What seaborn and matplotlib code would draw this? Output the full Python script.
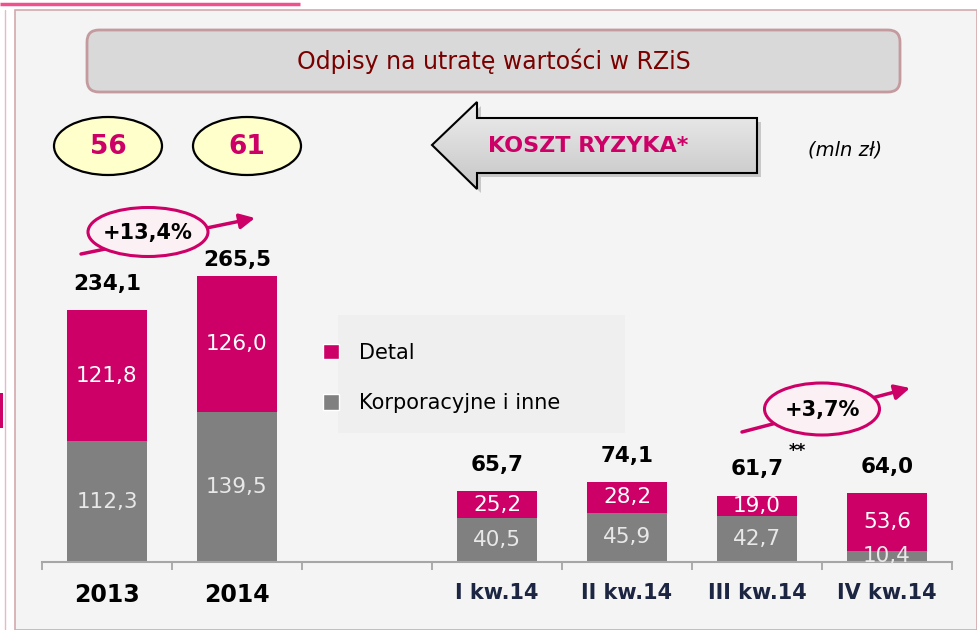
import numpy as np
import pandas as pd
import matplotlib
matplotlib.use("Agg")
import matplotlib.pyplot as plt
from matplotlib.patches import Ellipse, FancyBboxPatch, Polygon, Rectangle, Patch
from matplotlib.colors import LinearSegmentedColormap
import seaborn as sns

# ─────────────────────────────────────────────
# DANE (mln zł)
# ─────────────────────────────────────────────
okresy = ["2013", "2014", "I kw.14", "II kw.14", "III kw.14", "IV kw.14"]
detal = [121.8, 126.0, 25.2, 28.2, 19.0, 53.6]
korporacyjne = [112.3, 139.5, 40.5, 45.9, 42.7, 10.4]
suma = [234.1, 265.5, 65.7, 74.1, 61.7, 64.0]
koszt_ryzyka = ["56", "61"]
zmiany = ["+13,4%", "+3,7%"]

# kolejność osi x z pustym miejscem między latami a kwartałami
PUSTE = " "
kolejnosc = ["2013", "2014", PUSTE, "I kw.14", "II kw.14", "III kw.14", "IV kw.14"]

MAGENTA = "#cc0066"
SZARY = "#808080"
TLO = "#f4f4f4"

sns.set_style("white")
plt.rcParams["font.family"] = ["DejaVu Sans"]
plt.rcParams["text.color"] = "black"


def fmt(v):
    return f"{v:.1f}".replace(".", ",")


def rysuj_tlo(fig):
    """Warstwa dekoracyjna w pikselach: ramki, tytuł, elipsy, strzałka."""
    bg = fig.add_axes([0, 0, 1, 1], zorder=0)
    bg.set_xlim(0, 977)
    bg.set_ylim(630, 0)
    bg.axis("off")

    bg.add_patch(Rectangle((15, 10), 962, 620, facecolor=TLO, edgecolor="#d2a9ae", lw=1.2))
    bg.plot([4.5, 4.5], [10, 630], color="#e2bcc4", lw=1)
    bg.plot([0, 300], [4, 4], color="#f0508c", lw=2.5, solid_capstyle="butt")
    bg.add_patch(Rectangle((0, 393), 2.5, 35, facecolor=MAGENTA, edgecolor="none"))

    # tytuł
    bg.add_patch(FancyBboxPatch((87, 30), 813, 62, boxstyle="round,pad=0,rounding_size=12",
                                facecolor="#d9d9d9", edgecolor="#c49a9e", lw=2))
    bg.text(494, 61, "Odpisy na utratę wartości w RZiS", ha="center", va="center",
            fontsize=17, color="#7a0000")

    # koszt ryzyka – elipsy
    for cx, txt in zip([108, 247], koszt_ryzyka):
        bg.add_patch(Ellipse((cx, 146), 108, 58, facecolor="#ffffcc", edgecolor="black", lw=1.6))
        bg.text(cx, 147, txt, ha="center", va="center", fontsize=19,
                fontweight="bold", color=MAGENTA)

    # strzałka KOSZT RYZYKA*
    pts = [(432, 145), (477, 102), (477, 118), (757, 118), (757, 173), (477, 173), (477, 189)]
    cien = Polygon([(x + 4, y + 4) for x, y in pts], closed=True,
                   facecolor="#000000", alpha=0.18, edgecolor="none")
    bg.add_patch(cien)
    strz = Polygon(pts, closed=True, facecolor="none", edgecolor="black", lw=1.5, zorder=3)
    bg.add_patch(strz)
    grad = np.linspace(0, 1, 100).reshape(-1, 1)
    cmap = LinearSegmentedColormap.from_list("g", ["#eeeeee", "#c6c6c6"])
    im = bg.imshow(grad, cmap=cmap, extent=(432, 757, 189, 102), aspect="auto", zorder=2)
    im.set_clip_path(Polygon(pts, closed=True, transform=bg.transData))
    bg.text(588, 146, "KOSZT RYZYKA*", ha="center", va="center", fontsize=16,
            fontweight="bold", color=MAGENTA, zorder=4)
    bg.text(845, 150, "(mln zł)", ha="center", va="center", fontsize=14,
            style="italic", color="black")

    # strzałki ze zmianą procentową
    for (x0, y0, x1, y1, cx, cy, w, h), txt in zip(
            [(81, 254, 255, 218, 148, 232, 120, 49), (742, 432, 910, 388, 822, 409, 115, 52)],
            zmiany):
        bg.annotate("", xy=(x1, y1), xytext=(x0, y0),
                    arrowprops=dict(arrowstyle="-|>,head_length=0.9,head_width=0.45",
                                    color=MAGENTA, lw=2.5, shrinkA=0, shrinkB=0))
        bg.add_patch(Ellipse((cx, cy), w, h, facecolor="#fbf0f4", edgecolor=MAGENTA, lw=2.2, zorder=3))
        bg.text(cx, cy + 1, txt, ha="center", va="center", fontsize=15,
                fontweight="bold", color="black", zorder=4)

    # tło legendy
    bg.add_patch(Rectangle((338, 315), 287, 118, facecolor="#efefef", edgecolor="none"))
    return bg


def rysuj_wykres(fig):
    df = pd.DataFrame({"okres": okresy, "detal": detal,
                       "korporacyjne": korporacyjne, "suma": suma})

    ax = fig.add_axes([42 / 977, 68 / 630, 910 / 977, 300 * 1.076 / 630], zorder=1)
    ax.set_facecolor("none")

    sns.barplot(data=df, x="okres", y="suma", order=kolejnosc, color=MAGENTA,
                saturation=1, width=0.62, linewidth=0, ax=ax)
    sns.barplot(data=df, x="okres", y="korporacyjne", order=kolejnosc, color=SZARY,
                saturation=1, width=0.62, linewidth=0, ax=ax)

    pozycje = [kolejnosc.index(o) for o in okresy]
    for i, d, k, s, o in zip(pozycje, detal, korporacyjne, suma, okresy):
        ax.text(i, k + d / 2, fmt(d), ha="center", va="center", fontsize=15.5, color="white")
        ax.text(i, k / 2, fmt(k), ha="center", va="center", fontsize=15.5, color="#e8e8e8")
        off = 12 if o == "2014" else 19
        ax.annotate(fmt(s), xy=(i, s), xytext=(0, off), textcoords="offset points",
                    ha="center", va="center", fontsize=15.5, fontweight="bold", color="black")
    i3 = kolejnosc.index("III kw.14")
    ax.annotate("**", xy=(i3, suma[okresy.index("III kw.14")]), xytext=(29, 32),
                textcoords="offset points", ha="center", va="center",
                fontsize=12, fontweight="bold", color="black")

    ax.set_ylim(0, 300)
    ax.set_xlim(-0.5, 6.5)
    ax.set_xlabel("")
    ax.set_ylabel("")
    ax.set_yticks([])
    for s in ["left", "right", "top"]:
        ax.spines[s].set_visible(False)
    ax.spines["bottom"].set_color("#a6a6a6")
    ax.spines["bottom"].set_linewidth(1.5)

    ax.set_xticks(range(len(kolejnosc)), kolejnosc)
    ax.set_xticks(np.arange(-0.5, 7, 1), minor=True)
    ax.tick_params(axis="x", which="major", bottom=True, length=0, pad=15)
    ax.tick_params(axis="x", which="minor", bottom=True, length=6, width=1.3,
                   color="#a6a6a6", direction="out")
    for lab in ax.get_xticklabels():
        if "kw" in lab.get_text():
            lab.set_fontsize(15)
            lab.set_color("#1c2541")
        else:
            lab.set_fontsize(17)
            lab.set_color("black")
        lab.set_fontweight("bold")

    uchwyty = [Patch(facecolor=MAGENTA, label="Detal"),
               Patch(facecolor=SZARY, label="Korporacyjne i inne")]
    ax.legend(handles=uchwyty, loc="upper left", bbox_to_anchor=(323 / 977, 1 - 343 / 630),
              bbox_transform=fig.transFigure, frameon=False, fontsize=15, labelcolor="black",
              handlelength=0.75, handleheight=0.75, handletextpad=1.0,
              labelspacing=1.45, borderpad=0, borderaxespad=0)
    return ax


def main():
    fig = plt.figure(figsize=(9.77, 6.3), dpi=100, facecolor="white")
    rysuj_tlo(fig)
    rysuj_wykres(fig)
    fig.savefig("out.png", dpi=100, facecolor="white")
    plt.close(fig)


if __name__ == "__main__":
    main()
